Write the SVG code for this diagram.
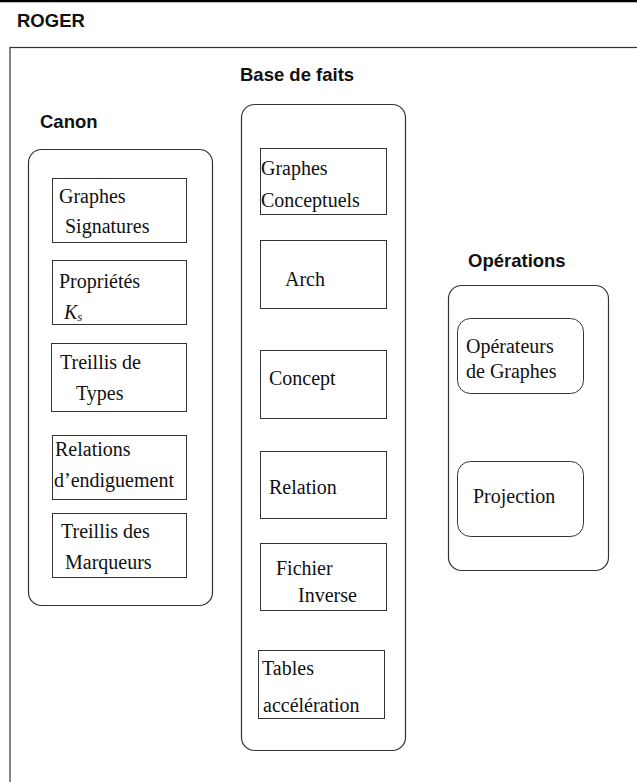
<svg xmlns="http://www.w3.org/2000/svg" width="637" height="782" viewBox="0 0 637 782">
<style>
.h{font-family:"Liberation Sans",Arial,sans-serif;font-weight:bold;font-size:18.5px;fill:#111}
.t{font-family:"Liberation Serif","Times New Roman",serif;font-size:20px;fill:#111}
.c{fill:#fff;stroke:#333;stroke-width:1.2}
.b{fill:#fff;stroke:#333;stroke-width:1}
</style>
<rect width="637" height="782" fill="#fff"/>
<line x1="0" y1="1" x2="637" y2="1" stroke="#000" stroke-width="2.5"/>
<text class="h" x="17" y="27">ROGER</text>
<rect x="10" y="47.5" width="640" height="750" fill="none" stroke="#333" stroke-width="1.2"/>

<g id="canon">
<text class="h" x="40" y="128">Canon</text>
<rect class="c" x="28.5" y="149.5" width="184" height="456" rx="13"/>
</g>
<g id="graphes-signatures">
<rect class="b" x="52.5" y="178.5" width="134" height="64"/>
<text class="t" x="59" y="203">Graphes</text>
<text class="t" x="65" y="233">Signatures</text>
</g>
<g id="proprietes">
<rect class="b" x="52.5" y="260.5" width="134" height="64"/>
<text class="t" x="59" y="288">Propriétés</text>
<text class="t" x="64" y="319" font-style="italic">K<tspan font-size="13" dy="2">s</tspan></text>
</g>
<g id="treillis-types">
<rect class="b" x="51.5" y="343.5" width="135" height="68"/>
<text class="t" x="60" y="369">Treillis de</text>
<text class="t" x="76" y="400">Types</text>
</g>
<g id="relations-endiguement">
<rect class="b" x="52.5" y="435.5" width="134" height="64"/>
<text class="t" x="55" y="456">Relations</text>
<text class="t" x="54" y="487">d’endiguement</text>
</g>
<g id="treillis-marqueurs">
<rect class="b" x="52.5" y="513.5" width="134" height="64"/>
<text class="t" x="61" y="538">Treillis des</text>
<text class="t" x="65" y="569">Marqueurs</text>
</g>

<g id="base-de-faits">
<text class="h" x="240" y="81">Base de faits</text>
<rect class="c" x="241.5" y="104.5" width="164" height="646" rx="13"/>
</g>
<g id="graphes-conceptuels">
<rect class="b" x="260.5" y="148.5" width="126" height="66"/>
<text class="t" x="261" y="175">Graphes</text>
<text class="t" x="261" y="207">Conceptuels</text>
</g>
<g id="arch">
<rect class="b" x="260.5" y="240.5" width="126" height="68"/>
<text class="t" x="285" y="286">Arch</text>
</g>
<g id="concept">
<rect class="b" x="260.5" y="350.5" width="126" height="68"/>
<text class="t" x="269" y="385">Concept</text>
</g>
<g id="relation">
<rect class="b" x="260.5" y="451.5" width="126" height="67"/>
<text class="t" x="269" y="494">Relation</text>
</g>
<g id="fichier-inverse">
<rect class="b" x="260.5" y="543.5" width="126" height="67"/>
<text class="t" x="276" y="575">Fichier</text>
<text class="t" x="298" y="602">Inverse</text>
</g>
<g id="tables-acceleration">
<rect class="b" x="258.5" y="650.5" width="126" height="68"/>
<text class="t" x="262" y="675">Tables</text>
<text class="t" x="263" y="712">accélération</text>
</g>

<g id="operations">
<text class="h" x="468" y="267">Opérations</text>
<rect class="c" x="448.5" y="285.5" width="160" height="285" rx="13"/>
</g>
<g id="operateurs-graphes">
<rect class="b" x="457.5" y="318.5" width="126" height="75" rx="13"/>
<text class="t" x="466" y="353">Opérateurs</text>
<text class="t" x="466" y="378">de Graphes</text>
</g>
<g id="projection">
<rect class="b" x="457.5" y="461.5" width="126" height="75" rx="13"/>
<text class="t" x="473" y="503">Projection</text>
</g>
<g id="connectors"/>
</svg>
